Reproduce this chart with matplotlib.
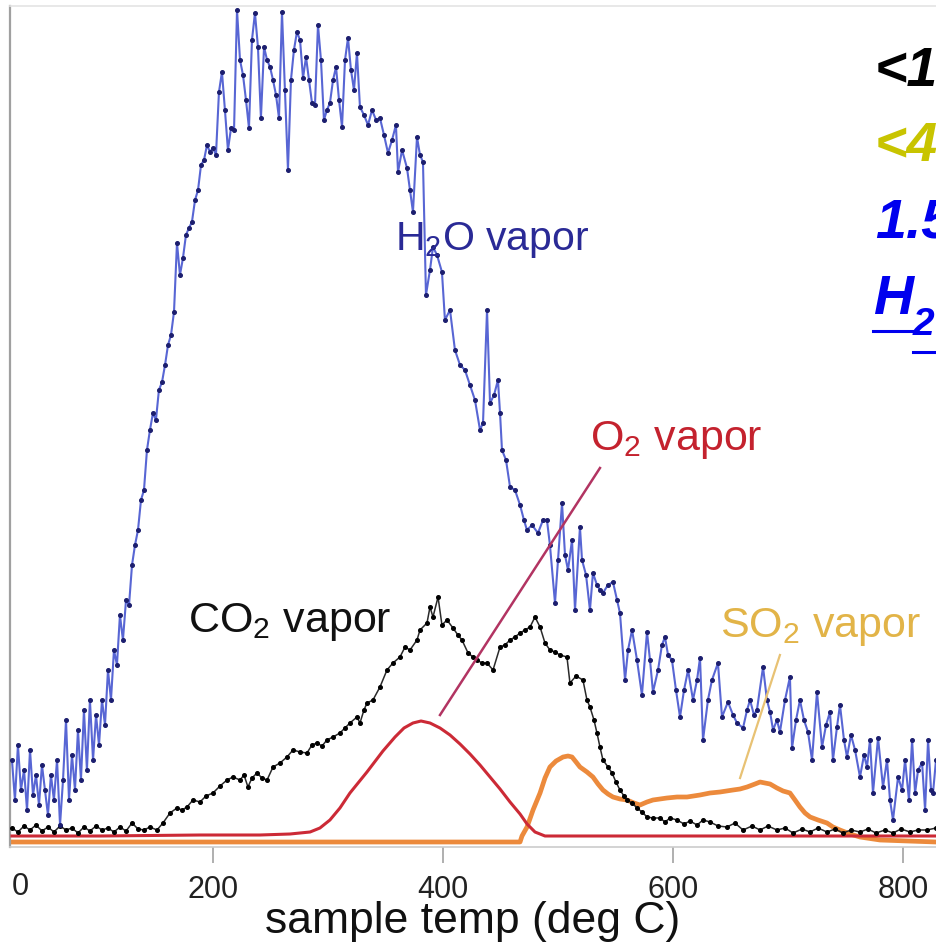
import numpy as np
import matplotlib
matplotlib.use('Agg')
import matplotlib.pyplot as plt
from matplotlib.lines import Line2D

# evolved gas traces vs sample temperature (signal in arbitrary units)
h2o_T = [25.2, 27.8, 30.4, 33.0, 35.7, 38.3, 40.9, 43.5, 46.1, 48.7, 51.3, 53.9, 56.5, 59.1, 61.7,
         64.4, 67.0, 69.6, 72.2, 74.8, 77.4, 80.0, 82.6, 85.2, 87.8, 90.4, 93.0, 95.7, 98.3, 100.9,
         103.5, 106.1, 108.7, 111.3, 113.9, 116.5, 119.1, 121.7, 124.4, 127.0, 129.6, 132.2, 134.8,
         137.4, 140.0, 142.6, 145.2, 147.8, 150.4, 153.0, 155.7, 158.3, 160.9, 163.5, 166.1, 168.7,
         171.3, 173.9, 176.5, 179.1, 181.7, 184.4, 187.0, 189.6, 192.2, 194.8, 197.4, 200.0, 202.6,
         205.2, 207.8, 210.4, 213.0, 215.7, 218.3, 220.9, 223.5, 226.1, 228.7, 231.3, 233.9, 236.5,
         239.1, 241.7, 244.4, 247.0, 249.6, 252.2, 254.8, 257.4, 260.0, 262.6, 265.2, 267.8, 270.4,
         273.0, 275.7, 278.3, 280.9, 283.5, 286.1, 288.7, 291.3, 293.9, 296.5, 299.1, 301.7, 304.4,
         307.0, 309.6, 312.2, 314.8, 317.4, 320.0, 322.6, 325.2, 327.8, 331.3, 334.8, 338.3, 341.8,
         345.2, 348.7, 352.2, 355.7, 359.1, 360.9, 364.4, 368.7, 371.3, 373.9, 377.4, 380.0, 382.6,
         385.2, 388.7, 391.3, 394.8, 399.1, 401.7, 406.1, 410.4, 414.8, 419.1, 423.5, 427.8, 432.2,
         434.8, 438.3, 440.9, 444.4, 447.8, 449.6, 451.3, 454.8, 458.3, 462.6, 467.0, 470.4, 473.0,
         477.4, 482.6, 487.0, 490.4, 493.0, 497.4, 500.0, 503.5, 506.1, 508.7, 512.2, 514.8, 519.1,
         520.9, 524.4, 527.8, 530.4, 533.9, 536.5, 539.1, 543.4, 547.8, 551.3, 553.9, 558.3, 560.9,
         564.4, 568.7, 573.0, 577.4, 580.0, 582.6, 587.0, 590.4, 593.0, 595.7, 599.1, 602.6, 606.1,
         609.6, 613.1, 617.4, 620.9, 623.5, 626.1, 630.4, 633.9, 639.1, 642.6, 647.8, 652.2, 655.7,
         660.9, 664.4, 667.0, 670.4, 673.0, 678.3, 681.7, 684.4, 687.0, 690.4, 693.0, 697.4, 701.7,
         703.5, 707.0, 710.4, 713.9, 717.4, 720.9, 725.2, 729.6, 733.1, 736.5, 739.1, 742.6, 745.2,
         748.7, 751.3, 754.8, 758.3, 762.6, 766.1, 768.7, 771.3, 773.9, 778.3, 782.6, 786.1, 788.7,
         791.3, 795.7, 799.2, 801.8, 805.2, 807.9, 810.5, 813.1, 816.6, 819.2, 821.8, 824.4, 826.1,
         828.7]
h2o_S = [80, 40, 95, 50, 70, 30, 90, 45, 65, 35, 75, 50, 25, 65, 40,
         80, 15, 60, 120, 40, 85, 50, 110, 60, 130, 70, 140, 80, 125, 95,
         140, 115, 170, 140, 190, 175, 225, 200, 240, 235, 275, 295, 310,
         340, 350, 390, 410, 427, 420, 450, 458, 475, 495, 505, 528, 597,
         565, 582, 605, 612, 618, 640, 650, 675, 680, 695, 688, 692, 685,
         748, 768, 730, 690, 712, 710, 830, 780, 765, 740, 712, 800, 827,
         793, 722, 793, 780, 773, 760, 745, 722, 828, 750, 670, 760, 790,
         808, 800, 762, 783, 760, 737, 735, 815, 780, 720, 730, 737, 760,
         773, 740, 713, 780, 802, 770, 750, 787, 733, 725, 715, 730, 720,
         722, 705, 687, 700, 715, 668, 690, 672, 650, 628, 703, 685, 678,
         545, 570, 593, 585, 568, 520, 530, 490, 475, 470, 455, 440, 410,
         417, 530, 437, 445, 460, 427, 390, 380, 353, 350, 335, 320, 310,
         315, 307, 320, 320, 295, 237, 280, 337, 285, 270, 300, 230, 313,
         280, 265, 230, 267, 255, 250, 247, 255, 258, 240, 227, 160, 190,
         210, 180, 145, 208, 180, 148, 170, 195, 203, 185, 180, 150, 123,
         150, 170, 140, 160, 182, 100, 140, 160, 177, 123, 138, 125, 117,
         112, 130, 140, 125, 130, 173, 140, 128, 110, 120, 108, 140, 163,
         92, 120, 140, 120, 108, 80, 148, 93, 115, 128, 80, 113, 135,
         100, 83, 105, 90, 63, 85, 73, 100, 47, 102, 53, 80, 40,
         20, 63, 50, 80, 40, 100, 47, 70, 77, 30, 100, 50, 47,
         80]

co2_T = [25.2, 30.4, 35.7, 40.9, 46.1, 51.3, 56.5, 61.7, 67.0, 72.2, 77.4, 82.6, 87.8, 93.0, 98.3,
         103.5, 108.7, 113.9, 119.1, 124.4, 129.6, 134.8, 140.0, 145.2, 151.3, 156.5, 162.6, 168.7,
         173.1, 177.4, 182.6, 188.7, 193.9, 200.0, 206.1, 212.2, 217.4, 223.5, 227.0, 230.4, 233.9,
         238.3, 242.6, 247.0, 252.2, 258.3, 264.3, 269.6, 275.7, 281.7, 286.1, 290.4, 294.8, 299.1,
         304.4, 310.4, 314.8, 319.1, 325.2, 327.8, 331.3, 333.9, 339.1, 345.2, 351.3, 356.5, 362.6,
         367.0, 371.3, 377.4, 380.0, 386.1, 388.7, 391.3, 395.7, 399.1, 403.5, 408.7, 413.0, 416.5,
         421.8, 426.1, 429.6, 433.9, 438.3, 443.5, 449.6, 453.9, 458.3, 462.6, 467.0, 471.3, 475.7,
         480.0, 484.4, 488.7, 493.0, 497.4, 501.7, 507.8, 510.4, 515.7, 521.7, 525.2, 527.8, 531.3,
         533.9, 536.5, 539.1, 543.5, 547.0, 550.4, 553.9, 557.4, 560.0, 564.4, 568.7, 573.1, 577.4,
         582.6, 588.7, 593.1, 597.4, 603.5, 609.6, 614.8, 620.9, 626.1, 632.2, 639.2, 647.0, 653.9,
         660.9, 668.7, 675.7, 682.6, 690.4, 697.4, 704.4, 712.2, 719.2, 726.1, 733.9, 740.9, 747.9,
         754.8, 762.6, 769.6, 776.5, 784.4, 791.3, 798.3, 806.1, 813.1, 820.9, 828.7]
co2_S = [12, 8, 14, 10, 15, 9, 13, 8, 14, 10, 12, 7, 13, 9, 14,
         10, 12, 8, 13, 9, 17, 11, 10, 13, 10, 17, 27, 32,
         30, 33, 40, 38, 44, 47, 54, 60, 63, 60, 65, 53, 62,
         67, 62, 60, 73, 77, 83, 90, 88, 87, 95, 97, 94, 100,
         103, 107, 112, 117, 123, 117, 130, 137, 140, 153, 170, 177, 183,
         193, 190, 200, 210, 217, 233, 223, 243, 215, 220, 212, 205, 200,
         187, 183, 180, 177, 177, 170, 193, 195, 200, 203, 207, 210, 213,
         223, 213, 197, 190, 188, 185, 183, 157, 164, 160, 140, 133, 120,
         107, 93, 80, 73, 67, 58, 50, 44, 40, 37, 32, 28, 23,
         22, 22, 18, 22, 20, 16, 19, 15, 20, 18, 14, 13, 17,
         10, 14, 10, 14, 10, 12, 7, 11, 8, 12, 8, 11, 7,
         10, 8, 11, 7, 10, 7, 11, 8, 10, 10, 12]

o2_T = [25.2, 101.8, 188.7, 240.9, 267.0, 284.4, 293.0, 301.7, 310.4, 319.1, 333.9, 347.8, 358.3,
        366.1, 373.9, 380.9, 388.7, 397.4, 406.1, 414.8, 423.5, 432.2, 440.9, 449.6, 458.3, 467.0,
        473.1, 480.0, 488.7, 536.5, 623.5, 710.4, 828.7]
o2_S = [4, 4, 5, 5, 6, 8, 12, 20, 32, 47, 68, 89, 103,
        112, 117, 119, 117, 112, 105, 96, 86, 75, 63, 51, 38, 26,
        16, 8, 4, 4, 4, 4, 4]

so2_T = [25.2, 101.8, 188.7, 275.7, 362.6, 423.5, 467.0, 468.7, 473.1, 478.3, 484.4, 488.7, 493.0,
         498.3, 504.4, 508.7, 512.2, 515.7, 519.1, 525.2, 530.4, 534.8, 539.1, 543.5, 547.8, 553.9,
         560.0, 566.1, 571.3, 577.4, 582.6, 588.7, 594.8, 603.5, 612.2, 623.5, 632.2, 640.9, 652.2,
         658.3, 664.4, 671.3, 675.7, 680.0, 684.4, 690.4, 695.7, 701.7, 706.1, 710.4, 714.8, 719.2,
         726.1, 733.9, 739.1, 745.2, 754.0, 762.6, 780.0, 828.7]
so2_S = [-2, -2, -2, -2, -2, -2, -2, 4, 13, 30, 47, 62, 73,
         79, 83, 84, 83, 78, 73, 68, 63, 56, 50, 46, 43, 41,
         40, 37, 35, 38, 40, 41, 42, 43, 43, 45, 47, 48, 50,
         51, 53, 56, 58, 57, 56, 52, 49, 47, 40, 33, 27, 23,
         20, 17, 13, 10, 6, 3, 0, -2]

# leader lines from the labels to the O2 and SO2 peaks
o2_leader_T = [397.4, 536.5]
o2_leader_S = [125, 372]
so2_leader_T = [658.3, 693.0]
so2_leader_S = [62, 185]

xticks = [200, 400, 600, 800]

plt.rcParams['font.family'] = 'Liberation Sans'
plt.rcParams['mathtext.fontset'] = 'custom'
plt.rcParams['mathtext.rm'] = 'Liberation Sans'
plt.rcParams['mathtext.it'] = 'Liberation Sans:italic'

W, H = 936, 942
fig = plt.figure(figsize=(W / 100, H / 100), dpi=100)
ax = fig.add_axes([10 / W, (H - 847) / H, (W - 10) / W, (847 - 6) / H])

# baseline series first so the big traces sit on top
ax.plot(so2_T, so2_S, color='#ec8a3c', linewidth=3.4, solid_joinstyle='round', zorder=2)
ax.plot(o2_T, o2_S, color='#cc2a36', linewidth=2.2, zorder=3)
ax.plot(co2_T, co2_S, color='#2a2a2a', linewidth=1.1, marker='o', markersize=2.6,
        markerfacecolor='black', markeredgecolor='black', zorder=4)
ax.plot(h2o_T, h2o_S, color='#5866d4', linewidth=1.5, marker='o', markersize=2.6,
        markerfacecolor='#1c1e6e', markeredgecolor='#1c1e6e', zorder=5)

ax.plot(o2_leader_T, o2_leader_S, color='#b23462', linewidth=1.8, zorder=6)
ax.plot(so2_leader_T, so2_leader_S, color='#e8c274', linewidth=1.6, zorder=6)

lbl = dict(va='center', ha='left', zorder=7)
ax.text(358.3, 600, r'H$_2$O vapor', color='#2a2a96', fontsize=29.5, **lbl)
ax.text(527.8, 400, r'O$_2$ vapor', color='#c4222e', fontsize=31, **lbl)
ax.text(178.3, 218, r'CO$_2$ vapor', color='#111111', fontsize=31, **lbl)
ax.text(640.9, 213, r'SO$_2$ vapor', color='#e2b448', fontsize=31, **lbl)

ax.set_xlim(23.5, 828.7)
ax.set_ylim(-7, 834)
ax.set_yticks([])
ax.set_xticks(xticks)
ax.set_xticklabels([str(t) for t in xticks])
ax.tick_params(axis='x', direction='out', length=11.5, width=1.1, color='#9a9a9a',
               pad=9, labelsize=22, labelcolor='#222222')
ax.set_xlabel('sample temp (deg C)', fontsize=32, color='#111111', labelpad=-3)

ax.spines['right'].set_visible(False)
ax.spines['left'].set_color('#a0a0a0')
ax.spines['left'].set_linewidth(1.6)
ax.spines['top'].set_color('#e4e4e4')
ax.spines['top'].set_linewidth(1.2)
ax.spines['bottom'].set_color('#cccccc')
ax.spines['bottom'].set_linewidth(1.2)

fig.text(20 / W, 1 - 887 / H, '0', fontsize=22, color='#222222', ha='center', va='center')

# notes on the right edge
note = dict(fontsize=40, fontweight='bold', fontstyle='italic', va='center', ha='left')
fig.text(875 / W, 1 - 72 / H, '<1', color='black', **note)
fig.text(875 / W, 1 - 147 / H, '<4', color='#c8c400', **note)
fig.text(875 / W, 1 - 223 / H, '1.5', color='#0000ee', **note)
fig.text(873 / W, 1 - 300 / H, 'H', color='#0000ee', **note)
fig.text(913 / W, 1 - 325 / H, '2', color='#0000ee', fontsize=28, fontweight='bold',
         fontstyle='italic', va='center', ha='left')
fig.add_artist(Line2D([873 / W, 913 / W], [1 - 331 / H, 1 - 331 / H], color='#0000ee', linewidth=2.2))
fig.add_artist(Line2D([913 / W, 936 / W], [1 - 352 / H, 1 - 352 / H], color='#0000ee', linewidth=2.2))

fig.savefig('out.png', dpi=100)
